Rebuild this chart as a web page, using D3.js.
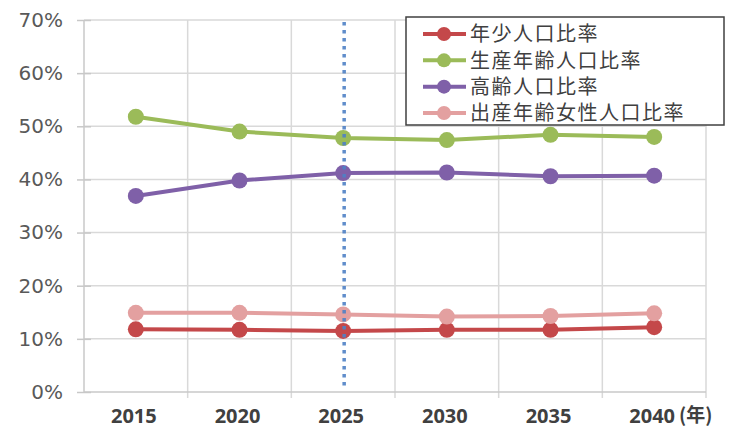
<!DOCTYPE html>
<html>
<head>
<meta charset="utf-8">
<script src="https://cdn.jsdelivr.net/npm/d3@7"></script>
<style>
  body { margin: 0; background: #fff; }
  svg { display: block; }
</style>
</head>
<body>
<div id="chart"></div>
<script>
const w = 729;
const h = 430;

const years = ["2015", "2020", "2025", "2030", "2035", "2040"];
const yTicks = [0, 0.1, 0.2, 0.3, 0.4, 0.5, 0.6, 0.7];
const seriesNames = ["年少人口比率", "生産年齢人口比率", "高齢人口比率", "出産年齢女性人口比率"];
const seriesColors = ["#c4484a", "#9bbb59", "#7f60a8", "#e3a0a0"];

const youngRatio = [0.118, 0.117, 0.115, 0.117, 0.117, 0.122];
const workingRatio = [0.518, 0.490, 0.478, 0.474, 0.484, 0.480];
const elderlyRatio = [0.369, 0.398, 0.412, 0.413, 0.406, 0.407];
const womenRatio = [0.149, 0.149, 0.146, 0.142, 0.143, 0.148];

const markerYear = "2025";
const yearUnit = "(年)";

const allSeries = [youngRatio, workingRatio, elderlyRatio, womenRatio];

const svg = d3.select("#chart").append("svg").attr("width", w).attr("height", h);

const x = d3.scaleBand().domain(years).range([84, 706]);
const y = d3.scaleLinear().domain([0, 0.7]).range([392, 20]);

// horizontal grid
svg.append("g")
  .selectAll("line")
  .data(yTicks.slice(1))
  .enter()
  .append("line")
  .attr("x1", 84).attr("x2", 706)
  .attr("y1", d => y(d)).attr("y2", d => y(d))
  .style("stroke", "#d9d9d9")
  .style("stroke-width", 1.5);

// vertical grid at band edges
svg.append("g")
  .selectAll("line")
  .data(years)
  .enter()
  .append("line")
  .attr("x1", d => x(d) + x.bandwidth()).attr("x2", d => x(d) + x.bandwidth())
  .attr("y1", y(0.7)).attr("y2", y(0) + 6)
  .style("stroke", "#d9d9d9")
  .style("stroke-width", 1.5);

// y axis
const yAxis = d3.axisLeft(y).tickValues(yTicks).tickFormat(d => Math.round(d * 100) + "%").tickSize(7).tickPadding(14);
const yG = svg.append("g").attr("transform", "translate(84,0)").call(yAxis);
yG.select(".domain").remove();
yG.append("line").attr("x1", 0).attr("x2", 0).attr("y1", y(0.7)).attr("y2", y(0)).style("stroke", "#c8c8c8").style("stroke-width", 1.5);
yG.selectAll(".tick line").attr("x2", 7).style("stroke", "#c8c8c8").style("stroke-width", 1.5).attr("x1", -7);
yG.selectAll(".tick text")
  .style("font-family", "'DejaVu Sans', sans-serif")
  .style("font-size", "20px")
  .style("fill", "#595959");

// x axis
const xAxis = d3.axisBottom(x).tickSize(0).tickPadding(17);
const xG = svg.append("g").attr("transform", "translate(0," + y(0) + ")").call(xAxis);
xG.select(".domain").remove();
xG.append("line").attr("x1", 84).attr("x2", 706).attr("y1", 0).attr("y2", 0).style("stroke", "#c8c8c8").style("stroke-width", 1.5);
xG.selectAll(".tick text")
  .attr("dx", -2)
  .style("font-family", "'Noto Sans', sans-serif")
  .style("font-size", "20px")
  .style("font-weight", "bold")
  .style("fill", "#404040");

// unit after last year label
const lastTick = xG.selectAll(".tick").filter(d => d === years[years.length - 1]);
const lastText = lastTick.select("text");
const lastLen = lastText.node().getComputedTextLength();
lastTick.append("text")
  .attr("x", lastLen / 2 + 2)
  .attr("y", lastText.attr("y"))
  .attr("dy", lastText.attr("dy"))
  .attr("text-anchor", "start")
  .style("font-family", "'Noto Sans CJK JP', sans-serif")
  .style("font-size", "19px")
  .style("font-weight", "bold")
  .style("fill", "#404040")
  .text(yearUnit);

// series
const line = d3.line()
  .x((d, i) => x(years[i]) + x.bandwidth() / 2)
  .y(d => y(d));

allSeries.forEach((s, k) => {
  const g = svg.append("g");
  g.append("path")
    .datum(s)
    .attr("d", line)
    .style("fill", "none")
    .style("stroke", seriesColors[k])
    .style("stroke-width", 4);
  g.selectAll("circle")
    .data(s)
    .enter()
    .append("circle")
    .attr("cx", (d, i) => x(years[i]) + x.bandwidth() / 2)
    .attr("cy", d => y(d))
    .attr("r", 8)
    .style("fill", seriesColors[k]);
});

// dotted marker line, over the points
svg.append("line")
  .attr("x1", x(markerYear) + x.bandwidth() / 2 + 1)
  .attr("x2", x(markerYear) + x.bandwidth() / 2 + 1)
  .attr("y1", y(0.7) + 2)
  .attr("y2", y(0) - 3)
  .style("stroke", "#4f81c6")
  .style("stroke-width", 3.5)
  .style("stroke-dasharray", "3.5 4.5")
  .style("opacity", 0.9);

// legend
const legend = svg.append("g").attr("transform", "translate(406,17)");
legend.append("rect")
  .attr("width", 318)
  .attr("height", 108)
  .style("fill", "#fff")
  .style("stroke", "#404040")
  .style("stroke-width", 1.5);

const rowY = d3.scalePoint().domain(seriesNames).range([17, 96]);

const rows = legend.selectAll(".row")
  .data(seriesNames)
  .enter()
  .append("g")
  .attr("class", "row")
  .attr("transform", d => "translate(0," + rowY(d) + ")");

rows.append("line")
  .attr("x1", 17).attr("x2", 60)
  .style("stroke", (d, i) => seriesColors[i])
  .style("stroke-width", 4);
rows.append("circle")
  .attr("cx", 38)
  .attr("r", 7)
  .style("fill", (d, i) => seriesColors[i]);
rows.append("text")
  .attr("x", 64)
  .attr("dy", "0.36em")
  .style("font-family", "'Noto Sans CJK JP', sans-serif")
  .style("font-size", "20px")
  .style("letter-spacing", "1.5px")
  .style("fill", "#404040")
  .text(d => d);
</script>
</body>
</html>
